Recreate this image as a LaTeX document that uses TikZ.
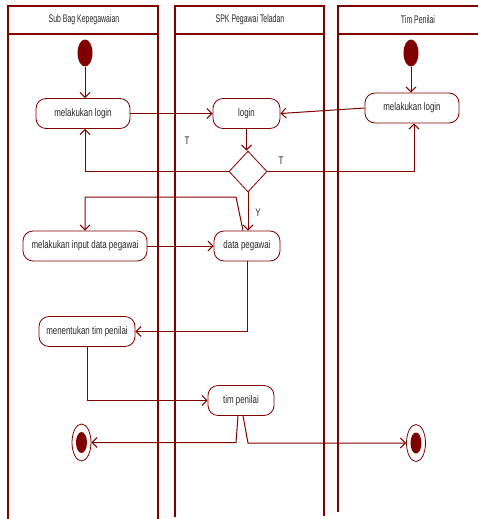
\documentclass[tikz,border=0pt]{standalone}
\usepackage{fontspec}
\setmainfont{Liberation Sans}[FakeStretch=0.72]
\newfontfamily\headfont{Liberation Sans}[FakeStretch=0.63]
\usetikzlibrary{arrows.meta, shapes.geometric}
\definecolor{umlred}{RGB}{128,0,0}
\tikzset{>={Straight Barb[length=5pt,width=10pt]}}
\tikzset{
  lane/.style={draw=umlred, line width=1.4pt},
  act/.style={draw=umlred, line width=0.8pt, rounded corners=10pt, minimum height=30pt, inner sep=2pt, font=\fontsize{11}{12}\selectfont, text=black!85},
  head/.style={font=\headfont\fontsize{11}{12}\selectfont, text=black!85},
  startst/.style={ellipse, fill=umlred, minimum width=15pt, minimum height=27pt, inner sep=0pt},
  endst/.style={ellipse, draw=umlred, line width=0.8pt, minimum width=19pt, minimum height=37pt, inner sep=0pt},
  endin/.style={ellipse, fill=umlred, minimum width=11pt, minimum height=21pt, inner sep=0pt},
  dec/.style={diamond, draw=umlred, line width=0.8pt, minimum width=38pt, minimum height=41pt, inner sep=0pt, aspect=1},
  flow/.style={->, draw=umlred, line width=1pt},
  guard/.style={font=\fontsize{11}{12}\selectfont, text=black!85}
}

\begin{document}
\begin{tikzpicture}[x=1pt, y=-1pt]
\useasboundingbox (0,0) rectangle (478,519);

% swimlanes
\draw[lane] (8,519) -- (8,6) -- (158,6) -- (158,519);
\draw[lane] (8,34) -- (158,34);
\draw[lane] (175,517) -- (175,6) -- (324,6) -- (324,516);
\draw[lane] (175,34) -- (324,34);
\draw[lane] (338,512) -- (338,6) -- (480,6);
\draw[lane] (338,34) -- (480,34);
\node[head] (hsub) at (84,20) {Sub Bag Kepegawaian};
\node[head] (hspk) at (250,20) {SPK Pegawai Teladan};
\node[head] (htim) at (418,20) {Tim Penilai};

% nodes
\node[startst] (start1) at (85,53) {};
\node[startst] (start3) at (411,53) {};
\node[act, minimum width=94pt] (m1) at (83,113.5) {melakukan login};
\node[act, minimum width=67pt] (login) at (246.5,113.5) {login};
\node[act, minimum width=94pt] (m3) at (412,108) {melakukan login};
\node[dec] (cek) at (248,171.5) {};
\node[act, minimum width=124pt] (input) at (85,246) {melakukan input data pegawai};
\node[act, minimum width=66pt] (data) at (247,246) {data pegawai};
\node[act, minimum width=96pt] (tentukan) at (87,331.5) {menentukan tim penilai};
\node[act, minimum width=66pt] (tim) at (241,400.5) {tim penilai};
\node[endst] (end1) at (81.5,442.5) {};
\node[endin] (end1in) at (end1) {};
\node[endst] (end2) at (416,443) {};
\node[endin] (end2in) at (end2) {};
\coordinate (balik) at (236,197);

% flows
\draw[flow] (start1) -- (start1 |- m1.north);
\draw[flow] (start3) -- (start3 |- m3.north);
\draw[flow] (m1.east) -- (login.west);
\draw[flow] (m3.west) -- (login.east);
\draw[flow] (login.south) -- (login.south |- cek.north);
\draw[flow] (cek.west) -| ([xshift=2pt]m1.south);
\draw[flow] (cek.east) -| ([xshift=2pt]m3.south);
\node[guard] (t1) at (187,141) {T};
\node[guard] (t2) at (281,161) {T};
\draw[flow] (cek.south) -- (cek.south |- data.north);
\node[guard] (y1) at (258,213) {Y};
\draw[flow] ([xshift=-4pt]data.north) -- (balik) -| (input.north);
\draw[flow] (input.east) -- (data.west);
\draw[flow] (data.south) |- (tentukan.east);
\draw[flow] (tentukan.south) |- (tim.west);
\draw[flow] ([xshift=-3pt]tim.south) -- ([xshift=-5pt]tim.south |- end1) -- (end1.east);
\draw[flow] ([xshift=2pt]tim.south) -- ([xshift=7pt]tim.south |- end2) -- (end2.west);
\end{tikzpicture}
\end{document}
